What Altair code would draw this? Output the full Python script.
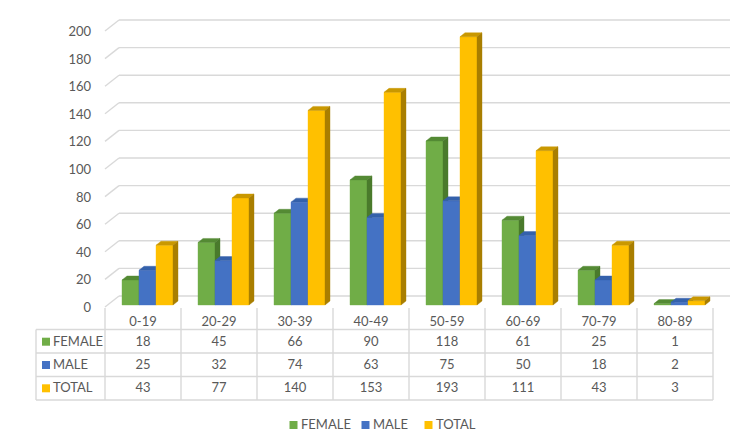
import altair as alt
import pandas as pd

# ---------------- data ----------------
categories = ["0-19", "20-29", "30-39", "40-49", "50-59", "60-69", "70-79", "80-89"]
series = ["FEMALE", "MALE", "TOTAL"]
female = [18, 45, 66, 90, 118, 61, 25, 1]
male = [25, 32, 74, 63, 75, 50, 18, 2]
total = [43, 77, 140, 153, 193, 111, 43, 3]
y_ticks = [0, 20, 40, 60, 80, 100, 120, 140, 160, 180, 200]

# ---------------- styles ----------------
front_colors = ["#70ad47", "#4472c4", "#ffc000"]
top_colors = ["#548a34", "#3461ab", "#c99800"]
side_colors = ["#4a7a2c", "#2b4f8e", "#a97e00"]
GRID = "#d9d9d9"
TXT = "#595959"
FONT = "Lato"
FS = 13

# ---------------- layout (pixels) ----------------
W, H = 750, 439
X0, COL = 105, 76          # left edge of first category column, column width
BASE, PPU = 305, 1.39      # front-plane baseline pixel, pixels per unit
BACK_DROP, BACK_PPU = 9, 1.38  # back wall offset and scale
DIAG_DX = 14
GRID_RIGHT = 730
TABLE_LEFT = 36
HEADER_TOP = 308
ROW_LINES = [329.5, 353, 376.5, 400]
HEADER_Y = 322
ROW_Y = [341.7, 365, 388.3]
KEY_X, LABEL_X = 46, 53
TICK_LABEL_X = 91
LEG_Y = 425
LEG_KEY_X = [293.5, 365.5, 428.5]
LEG_TXT_X = [301, 373, 436]
BAR_L, BAR_W = 17 / 76, 17 / 76
DX, DY = 5 / 76, 4 / PPU


def ux(p):
    return (p - X0) / COL


def vy(p):
    return (BASE - p) / PPU


xs = alt.Scale(domain=[ux(0), ux(W)], nice=False, zero=False)
ys = alt.Scale(domain=[vy(H), vy(0)], nice=False, zero=False)

values = {"FEMALE": female, "MALE": male, "TOTAL": total}
series_scale = alt.Scale(domain=series, range=front_colors)

# ---------------- grid ----------------
grid_df = pd.DataFrame({"tick": y_ticks})
grid_df["back"] = (BACK_DROP + BACK_PPU * grid_df["tick"]) / PPU
grid_df["xa"] = ux(X0)
grid_df["xb"] = ux(X0 + DIAG_DX)
grid_df["xc"] = ux(GRID_RIGHT)
grid_df["xl"] = ux(TICK_LABEL_X)
grid_df["label"] = grid_df["tick"].astype(str)

grid_h = alt.Chart(grid_df).mark_rule(color=GRID, strokeWidth=1.4).encode(
    x=alt.X("xb:Q", scale=xs, axis=None), x2="xc:Q",
    y=alt.Y("back:Q", scale=ys, axis=None))
grid_d = alt.Chart(grid_df).mark_rule(color=GRID, strokeWidth=1.4, yOffset=11).encode(
    x=alt.X("xa:Q", scale=xs, axis=None), x2="xb:Q",
    y=alt.Y("back:Q", scale=ys, axis=None), y2="back:Q")
tick_lab = alt.Chart(grid_df).mark_text(font=FONT, fontSize=FS, color=TXT, align="right",
                                         baseline="middle", dy=12).encode(
    x=alt.X("xl:Q", scale=xs, axis=None), y=alt.Y("back:Q", scale=ys, axis=None),
    text="label:N")

layers = [grid_h, grid_d, tick_lab]

# ---------------- 3D bars ----------------
bar_rows, face_rows = [], []
for k, s in enumerate(series):
    for i, c in enumerate(categories):
        v = values[s][i]
        x0 = i + BAR_L + k * BAR_W
        x1 = x0 + BAR_W
        bar_rows.append(dict(series=s, cat=c, x0=x0, x1=x1, v=v, base=0))
        for (x, lo, hi) in [(x0, v, v), (x0 + DX, v, v + DY), (x1, v, v + DY), (x1 + DX, v + DY, v + DY)]:
            face_rows.append(dict(series=s, cat=c, face="top", x=x, lo=lo, hi=hi))
        for (x, lo, hi) in [(x1, 0, v), (x1 + DX, DY, v + DY)]:
            face_rows.append(dict(series=s, cat=c, face="side", x=x, lo=lo, hi=hi))
bars_df = pd.DataFrame(bar_rows)
faces_df = pd.DataFrame(face_rows)

for k, s in enumerate(series):
    b = bars_df[bars_df.series == s]
    front = alt.Chart(b).mark_rect(stroke=front_colors[k], strokeWidth=0.4).encode(
        x=alt.X("x0:Q", scale=xs, axis=None), x2="x1:Q",
        y=alt.Y("v:Q", scale=ys, axis=None), y2="base:Q",
        color=alt.Color("series:N", scale=series_scale, legend=None))
    top = alt.Chart(faces_df[(faces_df.series == s) & (faces_df.face == "top")]).mark_area(
        color=top_colors[k], stroke=top_colors[k], strokeWidth=0.4).encode(
        x=alt.X("x:Q", scale=xs, axis=None),
        y=alt.Y("hi:Q", scale=ys, axis=None, stack=None), y2="lo:Q",
        detail="cat:N")
    side = alt.Chart(faces_df[(faces_df.series == s) & (faces_df.face == "side")]).mark_area(
        color=side_colors[k], stroke=side_colors[k], strokeWidth=0.4).encode(
        x=alt.X("x:Q", scale=xs, axis=None),
        y=alt.Y("hi:Q", scale=ys, axis=None, stack=None), y2="lo:Q",
        detail="cat:N")
    layers += [front, top, side]

# ---------------- data table ----------------
hlines = pd.DataFrame({"y": [vy(p) for p in ROW_LINES]})
hlines["xa"] = ux(TABLE_LEFT)
hlines["xb"] = float(len(categories))
vlines = pd.DataFrame({"x": list(range(len(categories) + 1))})
vlines["ya"] = vy(HEADER_TOP)
vlines["yb"] = vy(ROW_LINES[-1])
vleft = pd.DataFrame({"x": [ux(TABLE_LEFT)], "ya": [vy(ROW_LINES[0])], "yb": [vy(ROW_LINES[-1])]})
vlines = pd.concat([vlines, vleft], ignore_index=True)

t_h = alt.Chart(hlines).mark_rule(color=GRID, strokeWidth=1.4).encode(
    x=alt.X("xa:Q", scale=xs, axis=None), x2="xb:Q", y=alt.Y("y:Q", scale=ys, axis=None))
t_v = alt.Chart(vlines).mark_rule(color=GRID, strokeWidth=1.4).encode(
    x=alt.X("x:Q", scale=xs, axis=None), y=alt.Y("ya:Q", scale=ys, axis=None), y2="yb:Q")

header_df = pd.DataFrame({"cat": categories, "x": [i + 0.5 for i in range(len(categories))]})
header_df["y"] = vy(HEADER_Y)
cell_rows = []
for k, s in enumerate(series):
    for i, c in enumerate(categories):
        cell_rows.append(dict(series=s, x=i + 0.5, y=vy(ROW_Y[k]), text=str(values[s][i])))
cells_df = pd.DataFrame(cell_rows)
rowlab_df = pd.DataFrame({"series": series, "y": [vy(p) for p in ROW_Y]})
rowlab_df["xk"] = ux(KEY_X)
rowlab_df["xt"] = ux(LABEL_X)

txt = dict(font=FONT, fontSize=FS, color=TXT, baseline="middle")
t_head = alt.Chart(header_df).mark_text(align="center", **txt).encode(
    x=alt.X("x:Q", scale=xs, axis=None), y=alt.Y("y:Q", scale=ys, axis=None), text="cat:N")
t_cells = alt.Chart(cells_df).mark_text(align="center", **txt).encode(
    x=alt.X("x:Q", scale=xs, axis=None), y=alt.Y("y:Q", scale=ys, axis=None), text="text:N")
t_rowlab = alt.Chart(rowlab_df).mark_text(align="left", **txt).encode(
    x=alt.X("xt:Q", scale=xs, axis=None), y=alt.Y("y:Q", scale=ys, axis=None), text="series:N")
t_keys = alt.Chart(rowlab_df).mark_square(size=64, opacity=1).encode(
    x=alt.X("xk:Q", scale=xs, axis=None), y=alt.Y("y:Q", scale=ys, axis=None),
    color=alt.Color("series:N", scale=series_scale, legend=None))

# ---------------- bottom legend ----------------
leg_df = pd.DataFrame({"series": series,
                       "xk": [ux(p) for p in LEG_KEY_X],
                       "xt": [ux(p) for p in LEG_TXT_X]})
leg_df["y"] = vy(LEG_Y)
l_keys = alt.Chart(leg_df).mark_square(size=64, opacity=1).encode(
    x=alt.X("xk:Q", scale=xs, axis=None), y=alt.Y("y:Q", scale=ys, axis=None),
    color=alt.Color("series:N", scale=series_scale, legend=None))
l_txt = alt.Chart(leg_df).mark_text(align="left", **txt).encode(
    x=alt.X("xt:Q", scale=xs, axis=None), y=alt.Y("y:Q", scale=ys, axis=None), text="series:N")

layers += [t_h, t_v, t_head, t_cells, t_rowlab, t_keys, l_keys, l_txt]

chart = alt.layer(*layers).properties(
    width=W, height=H, padding=0,
    autosize=alt.AutoSizeParams(type="none"),
    background="white",
).configure_view(stroke=None)

chart.save("out.html", embed_options={"renderer": "svg", "actions": False})
